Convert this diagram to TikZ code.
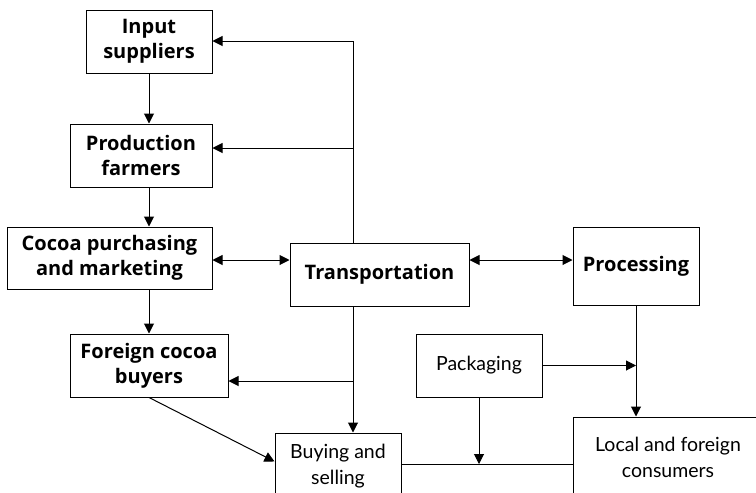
\documentclass[tikz,border=0pt]{standalone}
\usepackage{fontspec}
\setmainfont[Ligatures={NoCommon,NoRare}]{Lato}
\newfontfamily\headfont[Ligatures={NoCommon,NoRare}]{Open Sans}
\usetikzlibrary{arrows.meta,calc}
\begin{document}
\begin{tikzpicture}[x=1pt,y=1pt,
  line width=1pt,
  box/.style={draw, rectangle, inner sep=0pt, align=center,
    font=\fontsize{19.5}{26}\selectfont},
  bbox/.style={box, font=\headfont\fontsize{20}{25}\selectfont\bfseries},
  arr/.style={-{Triangle[length=10pt,width=10pt]}},
  darr/.style={{Triangle[length=10pt,width=10pt]}-{Triangle[length=10pt,width=10pt]}}]
\clip (0,0) rectangle (756,-493);
\fill[white] (0,0) rectangle (756,-493);

% boxes
\node[bbox, minimum width=126, minimum height=63] (inp)   at (149,-41.5)  {Input\\suppliers};
\node[bbox, minimum width=142, minimum height=63] (prod)  at (141,-155.5) {Production\\farmers};
\node[bbox, minimum width=205, minimum height=62] (coc)   at (109.5,-258) {Cocoa purchasing\\and marketing};
\node[bbox, minimum width=158, minimum height=63] (forg)  at (149,-365.5) {Foreign cocoa\\buyers};
\node[bbox, minimum width=179, minimum height=63] (trans) at (379.5,-274.5) {Transportation};
\node[bbox, minimum width=126, minimum height=78] (proc)  at (636,-266)   {Processing};
\node[box,  minimum width=126, minimum height=63] (pack)  at (479,-365.5) {Packaging};
\node[box,  minimum width=126, minimum height=66] (buy)   at (338,-466)   {Buying and\\selling};
\node[box,  minimum width=190, minimum height=80] (cons)  at (668,-457)   {Local and foreign\\consumers};

% junction points
\coordinate (tp) at (353,-41);
\coordinate (b1) at (353,-148);
\coordinate (b2) at (353,-381);
\coordinate (h1) at (0,-260);

% main chain
\draw[arr] (inp.south) -- (inp.south |- prod.north);
\draw[arr] (inp.south |- prod.south) -- (inp.south |- coc.north);
\draw[arr] (inp.south |- coc.south) -- (forg.north);

% transportation links
\draw[arr] (trans.north -| tp) -- (tp) -- (tp -| inp.east);
\draw[arr] (b1) -- (b1 -| prod.east);
\draw[darr] (coc.east |- h1) -- (trans.west |- h1);
\draw[darr] (trans.east |- h1) -- (proc.west |- h1);
\draw[arr] (trans.south -| tp) -- (buy.north -| tp);
\draw[arr] (b2) -- (b2 -| forg.east);

% lower links
\draw[arr] (forg.south) -- ($(buy.west)+(0,4.5)$);
\draw[arr] (proc.south) -- (proc.south |- cons.north);
\draw[arr] (pack.east) -- (pack.east -| proc.south);
\draw (buy.east |- 0,-464) -- (cons.west |- 0,-464);
\draw[arr] (pack.south) -- (pack.south |- 0,-464);
\end{tikzpicture}
\end{document}
